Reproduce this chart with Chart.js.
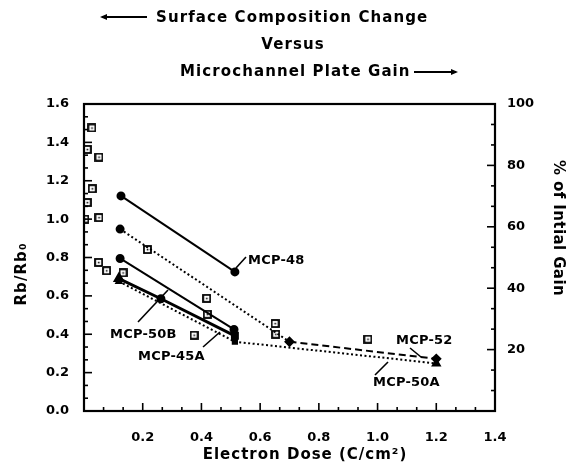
<!DOCTYPE html>
<html>
<head>
<meta charset="utf-8">
<script src="https://cdn.jsdelivr.net/npm/chart.js@4.4.0/dist/chart.umd.min.js"></script>
<style>
    body { margin: 0; background: #fff; }
</style>
</head>
<body>
<canvas id="myChart" width="573" height="470"></canvas>
<script>
// gain measurements (squares, right axis, % of initial gain)
var gainDose = [0.003, 0.011, 0.011, 0.027, 0.028, 0.050, 0.051, 0.051, 0.077, 0.133, 0.216, 0.375, 0.418, 0.420, 0.651, 0.653, 0.967];
var gainPct = [62.5, 85.2, 67.9, 92.2, 72.4, 48.4, 82.7, 63.0, 45.7, 45.0, 52.6, 24.7, 36.7, 31.5, 28.5, 25.0, 23.4];

// surface composition lines (left axis, Rb/Rb0)
var mcp48Dose = [0.126, 0.514];
var mcp48Rb = [1.121, 0.725];
var mcp52Dose = [0.123, 0.700, 1.200];
var mcp52Rb = [0.948, 0.361, 0.272];
var mcp50bDose = [0.123, 0.511];
var mcp50bRb = [0.795, 0.425];
var mcp45aDose = [0.119, 0.262, 0.514];
var mcp45aRb = [0.690, 0.585, 0.392];
var mcp50aDose = [0.119, 0.514, 1.200];
var mcp50aRb = [0.675, 0.361, 0.248];

var xTicks = [0.2, 0.4, 0.6, 0.8, 1.0, 1.2, 1.4];
var yTicks = [0.0, 0.2, 0.4, 0.6, 0.8, 1.0, 1.2, 1.4, 1.6];
var y2Ticks = [20, 40, 60, 80, 100];

function pts(xs, ys) {
    return xs.map(function (v, i) { return { x: v, y: ys[i] }; });
}

function makeSquare() {
    var c = document.createElement('canvas');
    c.width = 9;
    c.height = 9;
    var g = c.getContext('2d');
    g.fillStyle = '#fff';
    g.fillRect(0, 0, 9, 9);
    g.strokeStyle = '#000';
    g.lineWidth = 1.8;
    g.strokeRect(1, 1, 7, 7);
    g.fillStyle = '#000';
    g.fillRect(3.8, 3.8, 1.6, 1.6);
    return c;
}

var FONT = 'DejaVu Sans';

function drawText(c, txt, x, y, size, spacing, align) {
    c.font = 'bold ' + size + 'px "' + FONT + '"';
    c.letterSpacing = spacing + 'px';
    c.textAlign = align || 'left';
    c.textBaseline = 'middle';
    c.fillText(txt, x, y);
    c.letterSpacing = '0px';
}

function arrow(c, x1, x2, y) {
    c.beginPath();
    c.moveTo(x1, y);
    c.lineTo(x2, y);
    c.lineWidth = 1.8;
    c.stroke();
    var d = x2 > x1 ? 1 : -1;
    c.beginPath();
    c.moveTo(x2 + d * 2, y);
    c.lineTo(x2 - d * 5, y - 3);
    c.lineTo(x2 - d * 5, y + 3);
    c.closePath();
    c.fill();
}

var decor = {
    id: 'decor',
    afterDraw: function (chart) {
        var c = chart.ctx;
        var a = chart.chartArea;
        var sx = chart.scales.x, sy = chart.scales.y, sy2 = chart.scales.y2;
        c.save();
        c.strokeStyle = '#000';
        c.fillStyle = '#000';

        // frame
        c.lineWidth = 2.2;
        c.strokeRect(a.left, a.top, a.right - a.left, a.bottom - a.top);

        // inward ticks, 3 subdivisions per labelled step
        c.lineWidth = 1.6;
        var i, p, len;
        for (i = 0; i <= 21; i++) {
            p = sx.getPixelForValue(i * 0.2 / 3);
            len = i % 3 === 0 ? 8 : 4;
            c.beginPath(); c.moveTo(p, a.bottom); c.lineTo(p, a.bottom - len); c.stroke();
        }
        for (i = 0; i <= 24; i++) {
            p = sy.getPixelForValue(i * 0.2 / 3);
            len = i % 3 === 0 ? 8 : 4;
            c.beginPath(); c.moveTo(a.left, p); c.lineTo(a.left + len, p); c.stroke();
        }
        for (i = 0; i <= 15; i++) {
            p = sy2.getPixelForValue(i * 20 / 3);
            len = i % 3 === 0 ? 8 : 4;
            c.beginPath(); c.moveTo(a.right, p); c.lineTo(a.right - len, p); c.stroke();
        }

        // title
        arrow(c, 147, 102, 17);
        drawText(c, 'Surface Composition Change', 156, 18, 15, 1.1);
        drawText(c, 'Versus', 293, 45, 15, 1.1, 'center');
        drawText(c, 'Microchannel Plate Gain', 180, 72, 15, 1.1);
        arrow(c, 414, 456, 72);

        // axis titles
        drawText(c, 'Electron Dose (C/cm²)', 305, 455, 15, 1.0, 'center');
        c.save();
        c.translate(22, 274);
        c.rotate(-Math.PI / 2);
        drawText(c, 'Rb/Rb₀', 0, 0, 15, 1.1, 'center');
        c.restore();
        c.save();
        c.translate(558, 228);
        c.rotate(Math.PI / 2);
        drawText(c, '% of Intial Gain', 0, 0, 15, 0.4, 'center');
        c.restore();

        // series labels with leaders
        var labels = [
            ['MCP-48', 248, 261, 236, 268, 246, 257],
            ['MCP-50B', 110, 335, 138, 322, 168, 290],
            ['MCP-45A', 138, 357, 203, 347, 220, 332],
            ['MCP-52', 396, 341, 410, 348, 421, 357],
            ['MCP-50A', 373, 383, 375, 375, 388, 362]
        ];
        c.lineWidth = 1.6;
        labels.forEach(function (l) {
            drawText(c, l[0], l[1], l[2], 13, 0.2);
            c.beginPath(); c.moveTo(l[3], l[4]); c.lineTo(l[5], l[6]); c.stroke();
        });
        c.restore();
    }
};

var dotted = [2, 2.5];
var tickFont = { family: FONT, size: 13, weight: 'bold' };

var ctx = document.getElementById('myChart').getContext('2d');
var myChart = new Chart(ctx, {
    type: 'scatter',
    data: {
        datasets: [{
            label: 'MCP-48',
            data: pts(mcp48Dose, mcp48Rb),
            showLine: true,
            borderColor: '#000',
            backgroundColor: '#000',
            borderWidth: 2,
            pointRadius: 3.5,
            yAxisID: 'y'
        }, {
            label: 'MCP-52',
            data: pts(mcp52Dose, mcp52Rb),
            showLine: true,
            borderColor: '#000',
            backgroundColor: '#000',
            borderWidth: 2,
            pointStyle: ['circle', 'rectRot', 'rectRot'],
            pointRadius: [3.5, 4, 4],
            segment: {
                borderDash: function (s) { return s.p0DataIndex === 0 ? dotted : [7, 4]; }
            },
            yAxisID: 'y'
        }, {
            label: 'MCP-50B',
            data: pts(mcp50bDose, mcp50bRb),
            showLine: true,
            borderColor: '#000',
            backgroundColor: '#000',
            borderWidth: 2,
            pointRadius: 3.5,
            yAxisID: 'y'
        }, {
            label: 'MCP-45A',
            data: pts(mcp45aDose, mcp45aRb),
            showLine: true,
            borderColor: '#000',
            backgroundColor: '#000',
            borderWidth: 3,
            pointStyle: ['triangle', 'circle', 'rect'],
            pointRadius: [4, 3, 3.5],
            yAxisID: 'y'
        }, {
            label: 'MCP-50A',
            data: pts(mcp50aDose, mcp50aRb),
            showLine: true,
            borderColor: '#000',
            backgroundColor: '#000',
            borderWidth: 2,
            borderDash: dotted,
            pointStyle: ['triangle', 'rect', 'triangle'],
            pointRadius: [3, 3, 4],
            yAxisID: 'y'
        }, {
            label: 'Gain',
            data: pts(gainDose, gainPct),
            pointStyle: makeSquare(),
            yAxisID: 'y2'
        }]
    },
    options: {
        responsive: false,
        animation: false,
        layout: { padding: { top: 104 } },
        plugins: {
            legend: { display: false },
            tooltip: { enabled: false }
        },
        scales: {
            x: {
                type: 'linear',
                min: 0,
                max: 1.4,
                afterFit: function (s) { s.height = 59; },
                afterBuildTicks: function (s) { s.ticks = xTicks.map(function (v) { return { value: v }; }); },
                ticks: {
                    padding: 11,
                    color: '#000',
                    font: tickFont,
                    callback: function (v) { return v.toFixed(1); }
                },
                grid: { display: false },
                border: { display: false }
            },
            y: {
                position: 'left',
                min: 0,
                max: 1.6,
                afterFit: function (s) { s.width = 84; },
                afterBuildTicks: function (s) { s.ticks = yTicks.map(function (v) { return { value: v }; }); },
                ticks: {
                    padding: 7,
                    color: '#000',
                    font: tickFont,
                    callback: function (v) { return v.toFixed(1); }
                },
                grid: { display: false },
                border: { display: false }
            },
            y2: {
                position: 'right',
                min: 0,
                max: 100,
                afterFit: function (s) { s.width = 78; },
                afterBuildTicks: function (s) { s.ticks = y2Ticks.map(function (v) { return { value: v }; }); },
                ticks: {
                    padding: 4,
                    color: '#000',
                    font: tickFont
                },
                grid: { display: false },
                border: { display: false }
            }
        }
    },
    plugins: [decor]
});
</script>
</body>
</html>
